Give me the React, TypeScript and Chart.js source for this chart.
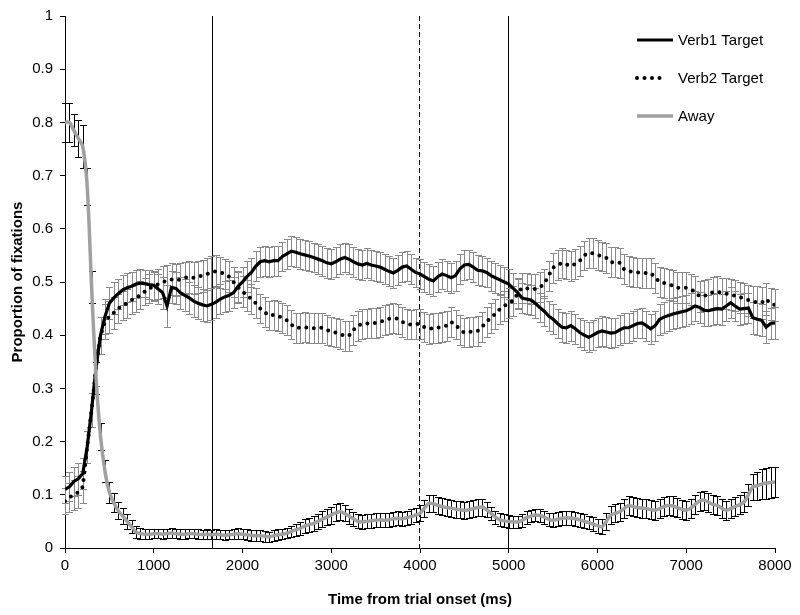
import React, { useEffect, useRef } from 'react';
import { Chart, registerables } from 'chart.js';

Chart.register(...registerables);

// Time points (ms)
const times = [
  0, 50, 100, 150, 200, 250, 300, 350, 400, 450,
  500, 550, 600, 650, 700, 750, 800, 850, 900, 950,
  1000, 1050, 1100, 1150, 1200, 1250, 1300, 1350, 1400, 1450,
  1500, 1550, 1600, 1650, 1700, 1750, 1800, 1850, 1900, 1950,
  2000, 2050, 2100, 2150, 2200, 2250, 2300, 2350, 2400, 2450,
  2500, 2550, 2600, 2650, 2700, 2750, 2800, 2850, 2900, 2950,
  3000, 3050, 3100, 3150, 3200, 3250, 3300, 3350, 3400, 3450,
  3500, 3550, 3600, 3650, 3700, 3750, 3800, 3850, 3900, 3950,
  4000, 4050, 4100, 4150, 4200, 4250, 4300, 4350, 4400, 4450,
  4500, 4550, 4600, 4650, 4700, 4750, 4800, 4850, 4900, 4950,
  5000, 5050, 5100, 5150, 5200, 5250, 5300, 5350, 5400, 5450,
  5500, 5550, 5600, 5650, 5700, 5750, 5800, 5850, 5900, 5950,
  6000, 6050, 6100, 6150, 6200, 6250, 6300, 6350, 6400, 6450,
  6500, 6550, 6600, 6650, 6700, 6750, 6800, 6850, 6900, 6950,
  7000, 7050, 7100, 7150, 7200, 7250, 7300, 7350, 7400, 7450,
  7500, 7550, 7600, 7650, 7700, 7750, 7800, 7850, 7900, 7950,
  8000,
];

const verb1 = [
  0.11, 0.115, 0.125, 0.13, 0.14, 0.19, 0.26, 0.34, 0.40, 0.435,
  0.46, 0.47, 0.478, 0.485, 0.489, 0.492, 0.496, 0.498, 0.497, 0.495,
  0.494, 0.487, 0.48, 0.455, 0.49, 0.488, 0.48, 0.475, 0.47, 0.464,
  0.46, 0.457, 0.455, 0.458, 0.462, 0.468, 0.472, 0.475, 0.48, 0.492,
  0.50, 0.51, 0.518, 0.53, 0.538, 0.54, 0.538, 0.54, 0.54, 0.548,
  0.553, 0.558, 0.556, 0.553, 0.551, 0.549, 0.546, 0.543, 0.54, 0.536,
  0.534, 0.538, 0.543, 0.546, 0.543, 0.538, 0.534, 0.532, 0.535, 0.532,
  0.53, 0.528, 0.524, 0.52, 0.517, 0.522, 0.528, 0.53, 0.524, 0.518,
  0.515, 0.51, 0.505, 0.502, 0.51, 0.515, 0.512, 0.508, 0.512, 0.525,
  0.532, 0.533, 0.528, 0.522, 0.521, 0.518, 0.512, 0.508, 0.504, 0.5,
  0.496, 0.488, 0.48, 0.47, 0.468, 0.466, 0.46, 0.452, 0.445, 0.436,
  0.43, 0.422, 0.415, 0.414, 0.418, 0.412, 0.405, 0.4, 0.396, 0.4,
  0.405, 0.408, 0.406, 0.404, 0.405, 0.41, 0.414, 0.414, 0.418, 0.422,
  0.423, 0.418, 0.412, 0.418, 0.43, 0.434, 0.437, 0.44, 0.442, 0.444,
  0.446, 0.45, 0.455, 0.452, 0.447, 0.446, 0.448, 0.45, 0.449, 0.455,
  0.461, 0.455, 0.449, 0.45, 0.451, 0.433, 0.43, 0.428, 0.415, 0.422,
  0.423,
];

const verb1Err = [
  0.025, 0.027, 0.028, 0.03, 0.03, 0.03, 0.032, 0.035, 0.035, 0.033,
  0.03, 0.03, 0.028, 0.028, 0.027, 0.027, 0.026, 0.026, 0.026, 0.027,
  0.027, 0.028, 0.03, 0.04, 0.03, 0.03, 0.03, 0.03, 0.03, 0.03,
  0.03, 0.03, 0.03, 0.03, 0.03, 0.029, 0.029, 0.029, 0.029, 0.029,
  0.029, 0.029, 0.028, 0.028, 0.028, 0.028, 0.028, 0.028, 0.028, 0.028,
  0.028, 0.028, 0.028, 0.028, 0.028, 0.028, 0.028, 0.028, 0.028, 0.028,
  0.028, 0.028, 0.028, 0.028, 0.028, 0.028, 0.028, 0.028, 0.028, 0.028,
  0.028, 0.028, 0.028, 0.028, 0.028, 0.028, 0.028, 0.028, 0.028, 0.028,
  0.028, 0.028, 0.028, 0.028, 0.028, 0.028, 0.028, 0.028, 0.028, 0.028,
  0.028, 0.028, 0.028, 0.028, 0.028, 0.028, 0.028, 0.028, 0.028, 0.028,
  0.028, 0.028, 0.028, 0.028, 0.028, 0.028, 0.028, 0.028, 0.028, 0.028,
  0.028, 0.028, 0.028, 0.028, 0.028, 0.028, 0.028, 0.028, 0.028, 0.028,
  0.028, 0.028, 0.028, 0.028, 0.028, 0.028, 0.028, 0.028, 0.028, 0.028,
  0.028, 0.028, 0.028, 0.028, 0.029, 0.029, 0.029, 0.029, 0.029, 0.029,
  0.029, 0.029, 0.029, 0.029, 0.029, 0.029, 0.029, 0.029, 0.029, 0.029,
  0.029, 0.029, 0.029, 0.029, 0.029, 0.03, 0.03, 0.03, 0.03, 0.03,
  0.03,
];

const verb2 = [
  0.088, 0.095, 0.1, 0.105, 0.115, 0.19, 0.26, 0.34, 0.40, 0.425,
  0.435, 0.442, 0.45, 0.456, 0.46, 0.466, 0.47, 0.476, 0.482, 0.488,
  0.492, 0.496, 0.5, 0.502, 0.505, 0.503, 0.505, 0.508, 0.51, 0.508,
  0.51, 0.512, 0.515, 0.518, 0.52, 0.518, 0.515, 0.51, 0.5, 0.49,
  0.482, 0.475, 0.468, 0.46, 0.45, 0.443, 0.437, 0.438, 0.436, 0.433,
  0.428, 0.42, 0.414, 0.414, 0.415, 0.414, 0.413, 0.414, 0.414, 0.41,
  0.407, 0.405, 0.402, 0.399, 0.399, 0.41, 0.418, 0.421, 0.422, 0.423,
  0.423, 0.425, 0.428, 0.431, 0.432, 0.431, 0.425, 0.421, 0.42, 0.421,
  0.421, 0.415, 0.412, 0.413, 0.414, 0.416, 0.418, 0.425, 0.42, 0.41,
  0.405, 0.406, 0.407, 0.408, 0.416, 0.425, 0.433, 0.44, 0.449, 0.455,
  0.46, 0.465, 0.478, 0.489, 0.488, 0.487, 0.487, 0.49, 0.497, 0.512,
  0.527, 0.532, 0.536, 0.533, 0.53, 0.534, 0.54, 0.55, 0.555, 0.554,
  0.551, 0.548, 0.545, 0.537, 0.538, 0.536, 0.524, 0.52, 0.519, 0.518,
  0.517, 0.517, 0.517, 0.508, 0.5, 0.498, 0.496, 0.493, 0.489, 0.489,
  0.489, 0.486, 0.482, 0.473, 0.474, 0.476, 0.481, 0.482, 0.479, 0.478,
  0.477, 0.474, 0.471, 0.47, 0.466, 0.463, 0.462, 0.461, 0.468, 0.459,
  0.457,
];

const verb2Err = [
  0.025, 0.027, 0.028, 0.03, 0.03, 0.03, 0.032, 0.035, 0.035, 0.033,
  0.03, 0.03, 0.028, 0.028, 0.027, 0.027, 0.026, 0.026, 0.026, 0.027,
  0.027, 0.028, 0.03, 0.03, 0.03, 0.03, 0.03, 0.03, 0.03, 0.03,
  0.03, 0.03, 0.03, 0.03, 0.03, 0.029, 0.029, 0.029, 0.029, 0.029,
  0.029, 0.029, 0.028, 0.028, 0.028, 0.028, 0.028, 0.028, 0.028, 0.028,
  0.028, 0.028, 0.028, 0.028, 0.028, 0.028, 0.028, 0.028, 0.028, 0.028,
  0.028, 0.028, 0.028, 0.028, 0.028, 0.028, 0.028, 0.028, 0.028, 0.028,
  0.028, 0.028, 0.028, 0.028, 0.028, 0.028, 0.028, 0.028, 0.028, 0.028,
  0.028, 0.028, 0.028, 0.028, 0.028, 0.028, 0.028, 0.028, 0.028, 0.028,
  0.028, 0.028, 0.028, 0.028, 0.028, 0.028, 0.028, 0.028, 0.028, 0.028,
  0.028, 0.028, 0.028, 0.028, 0.028, 0.028, 0.028, 0.028, 0.028, 0.028,
  0.028, 0.028, 0.028, 0.028, 0.028, 0.028, 0.028, 0.028, 0.028, 0.028,
  0.028, 0.028, 0.028, 0.028, 0.028, 0.028, 0.028, 0.028, 0.028, 0.028,
  0.028, 0.028, 0.028, 0.028, 0.029, 0.029, 0.029, 0.029, 0.029, 0.029,
  0.029, 0.029, 0.029, 0.029, 0.029, 0.029, 0.029, 0.029, 0.029, 0.029,
  0.029, 0.029, 0.029, 0.029, 0.029, 0.03, 0.03, 0.03, 0.03, 0.03,
  0.03,
];

const away = [
  0.80, 0.80, 0.785, 0.77, 0.755, 0.68, 0.49, 0.32, 0.21, 0.145,
  0.105, 0.085, 0.07, 0.06, 0.05, 0.04, 0.03, 0.027, 0.026, 0.026,
  0.027, 0.027, 0.026, 0.027, 0.028, 0.027, 0.026, 0.026, 0.027, 0.027,
  0.026, 0.025, 0.026, 0.025, 0.026, 0.025, 0.024, 0.025, 0.026, 0.027,
  0.026, 0.025, 0.024, 0.023, 0.023, 0.022, 0.021, 0.023, 0.025, 0.026,
  0.028, 0.031, 0.034, 0.037, 0.041, 0.044, 0.046, 0.05, 0.054, 0.058,
  0.062, 0.066, 0.068, 0.065, 0.06, 0.055, 0.05, 0.049, 0.05, 0.051,
  0.052, 0.053, 0.052, 0.053, 0.055, 0.056, 0.055, 0.057, 0.059, 0.062,
  0.065, 0.075, 0.084, 0.083, 0.08, 0.078, 0.076, 0.075, 0.073, 0.072,
  0.071, 0.072, 0.074, 0.076, 0.077, 0.072, 0.065, 0.058, 0.053, 0.051,
  0.05, 0.049, 0.049, 0.052, 0.057, 0.06, 0.062, 0.061, 0.058, 0.054,
  0.052, 0.054, 0.056, 0.057, 0.056, 0.055, 0.053, 0.05, 0.048, 0.045,
  0.042, 0.04, 0.05, 0.062, 0.065, 0.068, 0.074, 0.08, 0.078, 0.076,
  0.075, 0.074, 0.072, 0.071, 0.074, 0.078, 0.08, 0.079, 0.076, 0.073,
  0.071, 0.075, 0.082, 0.088, 0.09, 0.086, 0.082, 0.08, 0.075, 0.071,
  0.074, 0.078, 0.081, 0.086, 0.1, 0.115, 0.117, 0.12, 0.122, 0.123,
  0.124,
];

const awayErr = [
  0.037, 0.037, 0.03, 0.035, 0.04, 0.035, 0.03, 0.03, 0.025, 0.02,
  0.02, 0.018, 0.016, 0.015, 0.014, 0.012, 0.011, 0.01, 0.009, 0.009,
  0.009, 0.009, 0.009, 0.009, 0.01, 0.009, 0.009, 0.009, 0.009, 0.009,
  0.009, 0.009, 0.009, 0.009, 0.009, 0.009, 0.009, 0.009, 0.01, 0.01,
  0.01, 0.01, 0.01, 0.01, 0.01, 0.01, 0.01, 0.01, 0.01, 0.01,
  0.01, 0.011, 0.011, 0.012, 0.013, 0.013, 0.014, 0.014, 0.015, 0.015,
  0.016, 0.016, 0.016, 0.015, 0.014, 0.013, 0.013, 0.013, 0.013, 0.013,
  0.013, 0.013, 0.013, 0.013, 0.013, 0.013, 0.013, 0.013, 0.014, 0.014,
  0.015, 0.016, 0.016, 0.016, 0.016, 0.016, 0.016, 0.016, 0.016, 0.016,
  0.016, 0.016, 0.016, 0.016, 0.016, 0.014, 0.013, 0.012, 0.012, 0.012,
  0.012, 0.012, 0.012, 0.012, 0.012, 0.012, 0.012, 0.012, 0.012, 0.012,
  0.013, 0.013, 0.013, 0.013, 0.013, 0.013, 0.013, 0.013, 0.013, 0.013,
  0.013, 0.014, 0.016, 0.017, 0.017, 0.017, 0.018, 0.018, 0.018, 0.018,
  0.018, 0.018, 0.018, 0.018, 0.018, 0.018, 0.018, 0.018, 0.018, 0.018,
  0.018, 0.018, 0.018, 0.018, 0.018, 0.018, 0.018, 0.018, 0.018, 0.018,
  0.018, 0.018, 0.018, 0.019, 0.021, 0.024, 0.026, 0.028, 0.029, 0.029,
  0.029,
];

const seriesNames = ['Verb1 Target', 'Verb2 Target', 'Away'];
const yTickLabels = ['0', '0.1', '0.2', '0.3', '0.4', '0.5', '0.6', '0.7', '0.8', '0.9', '1'];
const xTickLabels = ['0', '1000', '2000', '3000', '4000', '5000', '6000', '7000', '8000'];
const markerTimes = [1667, 4000, 5000];
const markerDashed = [false, true, false];

const FONT = "'Liberation Sans', Arial, sans-serif";

const errorBarPlugin = {
  id: 'errorBars',
  beforeDatasetsDraw(chart: any) {
    const { ctx } = chart;
    const xs = chart.scales.x;
    const ys = chart.scales.y;
    const order = [1, 0, 2];
    order.forEach((i) => {
      const ds = chart.data.datasets[i];
      const err: number[] = ds.errors;
      ctx.save();
      ctx.strokeStyle = ds.errorColor;
      ctx.lineWidth = 1;
      ds.data.forEach((p: any, j: number) => {
        const px = Math.round(xs.getPixelForValue(p.x)) + 0.5;
        const top = Math.round(ys.getPixelForValue(p.y + err[j])) + 0.5;
        const bot = Math.round(ys.getPixelForValue(p.y - err[j])) + 0.5;
        ctx.beginPath();
        ctx.moveTo(px, top);
        ctx.lineTo(px, bot);
        ctx.moveTo(px - 3.5, top);
        ctx.lineTo(px + 3.5, top);
        ctx.moveTo(px - 3.5, bot);
        ctx.lineTo(px + 3.5, bot);
        ctx.stroke();
      });
      ctx.restore();
    });
  },
};

const markerPlugin = {
  id: 'markers',
  beforeDatasetsDraw(chart: any) {
    const { ctx, chartArea } = chart;
    const xs = chart.scales.x;
    ctx.save();
    ctx.strokeStyle = '#000';
    ctx.lineWidth = 1;
    markerTimes.forEach((t, i) => {
      const px = Math.round(xs.getPixelForValue(t)) - 0.5;
      ctx.setLineDash(markerDashed[i] ? [5, 3] : []);
      ctx.beginPath();
      ctx.moveTo(px, chartArea.top);
      ctx.lineTo(px, chartArea.bottom);
      ctx.stroke();
    });
    ctx.restore();
  },
};

const legendPlugin = {
  id: 'customLegend',
  afterDraw(chart: any) {
    const { ctx } = chart;
    const x0 = 637;
    const x1 = 673;
    const rowsY = [40, 78, 116];
    ctx.save();
    chart.data.datasets.forEach((ds: any, i: number) => {
      const y = rowsY[i];
      ctx.beginPath();
      ctx.strokeStyle = ds.borderColor;
      ctx.lineWidth = ds.borderWidth;
      if (ds.borderDash && ds.borderDash.length) {
        ctx.setLineDash(ds.borderDash);
        ctx.lineCap = 'round';
        ctx.moveTo(x0, y);
        ctx.lineTo(x1 - 8, y);
      } else {
        ctx.setLineDash([]);
        ctx.lineCap = 'butt';
        ctx.moveTo(x0, y);
        ctx.lineTo(x1, y);
      }
      ctx.stroke();
      ctx.setLineDash([]);
      ctx.fillStyle = '#000';
      ctx.font = `15px ${FONT}`;
      ctx.textBaseline = 'middle';
      ctx.textAlign = 'left';
      ctx.fillText(ds.label, 678, y + 1);
    });
    ctx.restore();
  },
};

export default function App() {
  const canvasRef = useRef<HTMLCanvasElement | null>(null);

  useEffect(() => {
    if (!canvasRef.current) return;
    const mk = (vals: number[]) => times.map((t, i) => ({ x: t, y: vals[i] }));
    const chart = new Chart(canvasRef.current, {
      type: 'line',
      data: {
        datasets: [
          {
            label: seriesNames[0],
            data: mk(verb1),
            borderColor: '#000000',
            borderWidth: 3.2,
            pointRadius: 0,
            tension: 0,
            order: 1,
            errors: verb1Err,
            errorColor: '#8a8a8a',
          } as any,
          {
            label: seriesNames[1],
            data: mk(verb2),
            borderColor: '#000000',
            borderWidth: 4,
            borderDash: [0, 7.5],
            borderCapStyle: 'round',
            pointRadius: 0,
            tension: 0,
            order: 2,
            errors: verb2Err,
            errorColor: '#8a8a8a',
          } as any,
          {
            label: seriesNames[2],
            data: mk(away),
            borderColor: '#a0a0a0',
            borderWidth: 3.5,
            pointRadius: 0,
            tension: 0.3,
            order: 0,
            errors: awayErr,
            errorColor: '#000000',
          } as any,
        ],
      },
      options: {
        animation: false,
        responsive: true,
        maintainAspectRatio: false,
        layout: { padding: { top: 12, right: 25, left: 0, bottom: 0 } },
        plugins: {
          legend: { display: false },
          tooltip: { enabled: false },
        },
        scales: {
          x: {
            type: 'linear',
            min: 0,
            max: 8000,
            ticks: {
              stepSize: 1000,
              color: '#000',
              font: { family: FONT, size: 15 },
              maxRotation: 0,
              padding: 4,
              callback: (_v: any, i: number) => xTickLabels[i],
            },
            grid: { drawOnChartArea: false, color: '#000', tickLength: 5 },
            border: { color: '#000', width: 1 },
            title: {
              display: true,
              text: 'Time from trial onset (ms)',
              color: '#000',
              font: { family: FONT, size: 15, weight: 'bold' },
              padding: { top: 0, bottom: 6 },
            },
            afterFit: (s: any) => {
              s.height = 67;
            },
          },
          y: {
            min: 0,
            max: 1,
            ticks: {
              stepSize: 0.1,
              color: '#000',
              font: { family: FONT, size: 15 },
              padding: 7,
              callback: (_v: any, i: number) => yTickLabels[i],
            },
            grid: { drawOnChartArea: false, color: '#000', tickLength: 5 },
            border: { color: '#000', width: 1 },
            title: {
              display: true,
              text: 'Proportion of fixations',
              color: '#000',
              font: { family: FONT, size: 15, weight: 'bold' },
              padding: { top: 9, bottom: 0 },
            },
            afterFit: (s: any) => {
              s.width = 65;
            },
          },
        },
      },
      plugins: [markerPlugin, errorBarPlugin, legendPlugin],
    });
    return () => chart.destroy();
  }, []);

  return (
    <div style={{ position: 'absolute', left: 0, top: 0, width: 800, height: 615, background: '#fff' }}>
      <canvas ref={canvasRef} />
    </div>
  );
}
